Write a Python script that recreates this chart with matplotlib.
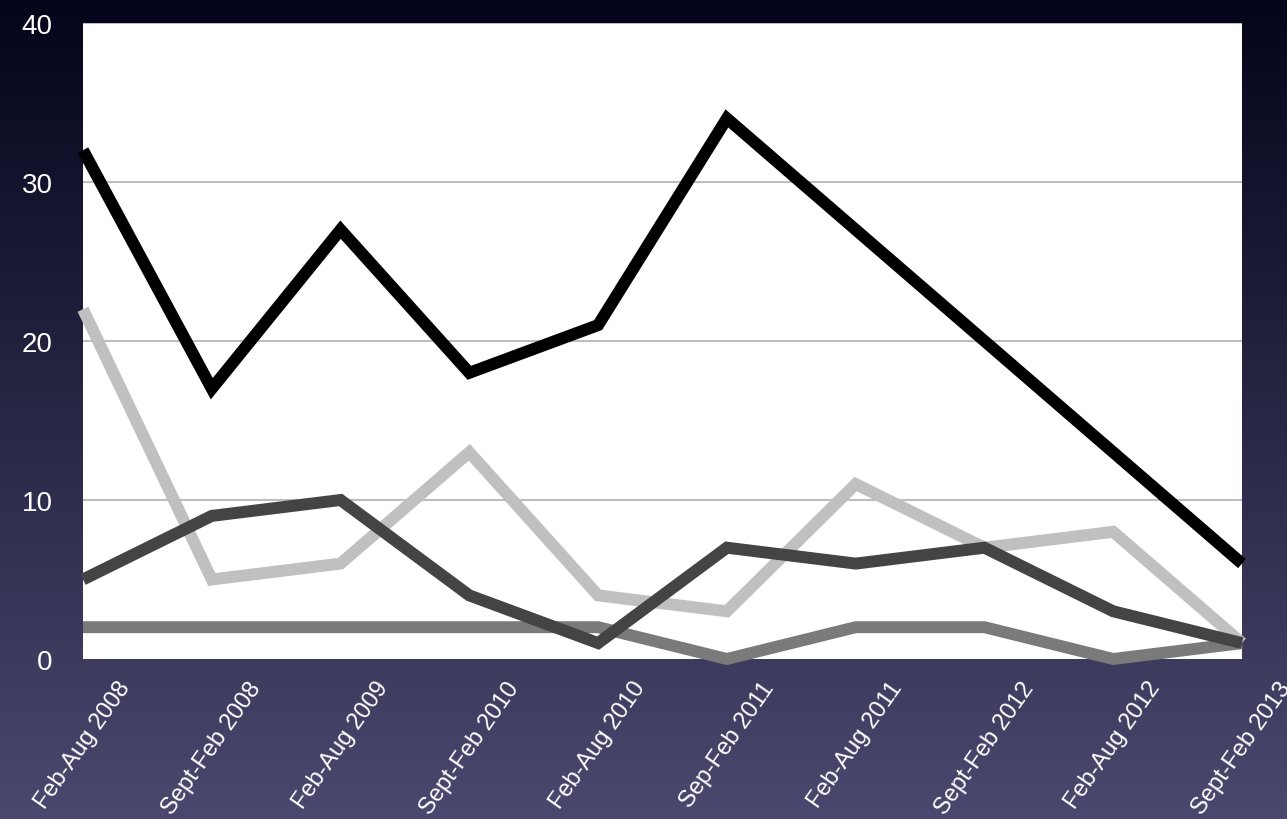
import numpy as np
import matplotlib.pyplot as plt

periods = ["Feb-Aug 2008", "Sept-Feb 2008", "Feb-Aug 2009", "Sept-Feb 2010",
           "Feb-Aug 2010", "Sep-Feb 2011", "Feb-Aug 2011", "Sept-Feb 2012",
           "Feb-Aug 2012", "Sept-Feb 2013"]

black_vals = [32, 17, 27, 18, 21, 34, 27, 20, 13, 6]
light_vals = [22, 5, 6, 13, 4, 3, 11, 7, 8, 1]
dark_vals = [5, 9, 10, 4, 1, 7, 6, 7, 3, 1]
mid_vals = [2, 2, 2, 2, 2, 0, 2, 2, 0, 1]

plt.rcParams['font.family'] = ['Liberation Sans', 'DejaVu Sans']

fig = plt.figure(figsize=(12.87, 8.2), dpi=100)

# background gradient, dark navy at the top to greyish purple at the bottom
bg = fig.add_axes([0, 0, 1, 1], zorder=-10)
top = np.array([4, 4, 26]) / 255
bottom = np.array([74, 72, 110]) / 255
t = np.linspace(0, 1, 256)[:, None]
grad = top + (bottom - top) * t
bg.imshow(grad[:, None, :].repeat(2, axis=1), aspect='auto', extent=[0, 1, 0, 1])
bg.axis('off')

ax = fig.add_axes([83/1287, 1 - 660/820, (1242 - 83)/1287, (660 - 24)/820])
ax.set_facecolor('white')
x = np.arange(len(periods))

lw = 8.6
for vals, col in [(mid_vals, '#7a7a7a'), (light_vals, '#c0c0c0'),
                  (dark_vals, '#444444'), (black_vals, '#000000')]:
    ax.plot(x, vals, color=col, lw=lw, solid_joinstyle='miter',
            solid_capstyle='butt', clip_on=False, zorder=3)

ax.set_xlim(0, len(periods) - 1)
ax.set_ylim(0, 40)
ax.set_yticks([0, 10, 20, 30, 40])
for yv in [10, 20, 30, 40]:
    ax.axhline(yv, color='#bdbdbd', lw=1.5, zorder=1)

for s in ax.spines.values():
    s.set_visible(False)
ax.tick_params(length=0)
ax.tick_params(axis='y', labelsize=20, labelcolor='white', pad=22)
ax.set_xticks(x)
ax.set_xticklabels(periods, rotation=55, ha='center', va='top',
                   fontsize=17, color='white')
ax.tick_params(axis='x', pad=13)

fig.savefig('out.png', dpi=100)
